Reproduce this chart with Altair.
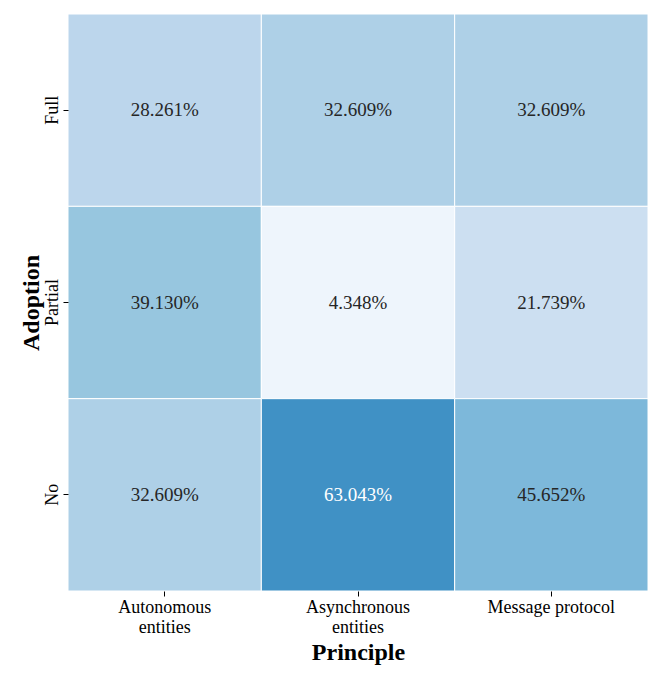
import altair as alt
import pandas as pd

principles = ["Autonomous entities", "Asynchronous entities", "Message protocol"]
adoption = ["Full", "Partial", "No"]
values = [
    [28.261, 32.609, 32.609],
    [39.130, 4.348, 21.739],
    [32.609, 63.043, 45.652],
]

rows = []
for i, a in enumerate(adoption):
    for j, p in enumerate(principles):
        rows.append({"Principle": p, "Adoption": a, "v": values[i][j],
                     "label": f"{values[i][j]:.3f}%"})
df = pd.DataFrame(rows)

blues = ['#f7fbff', '#deebf7', '#c6dbef', '#9ecae1', '#6baed6', '#4292c6', '#2171b5', '#08519c', '#08306b']
dom = [i * 12.5 for i in range(9)]

font = "Liberation Serif"
x = alt.X("Principle:N", sort=principles, title="Principle",
          axis=alt.Axis(labelAngle=0, labelFontSize=18, titleFontSize=24, labelFont=font, titleFont=font,
                        labelColor="black", titleColor="black", domain=False, tickColor="black",
                        labelExpr="datum.value=='Autonomous entities' ? ['Autonomous','entities'] : datum.value=='Asynchronous entities' ? ['Asynchronous','entities'] : datum.value"))
y = alt.Y("Adoption:N", sort=adoption, title="Adoption",
          axis=alt.Axis(labelAngle=270, labelFontSize=18, titleFontSize=24, labelFont=font, titleFont=font,
                        labelColor="black", titleColor="black", domain=False, tickColor="black",
                        labelAlign="center", labelBaseline="bottom", titlePadding=0))

rect = alt.Chart(df).mark_rect(stroke="white", strokeWidth=1).encode(
    x=x, y=y,
    color=alt.Color("v:Q", scale=alt.Scale(domain=dom, range=blues), legend=None))
text = alt.Chart(df).mark_text(fontSize=19, font=font).encode(
    x=x, y=y, text="label:N",
    color=alt.condition("datum.v > 55", alt.value("white"), alt.value("#262626")))

chart = (rect + text).properties(
    width=580, height=577,
    autosize=alt.AutoSizeParams(type="none"),
    padding={"left": 60, "top": 6, "right": 5, "bottom": 80},
).configure_view(stroke=None).configure_scale(bandPaddingInner=0)

chart.save("out.html", embed_options={"renderer": "svg", "actions": False})
